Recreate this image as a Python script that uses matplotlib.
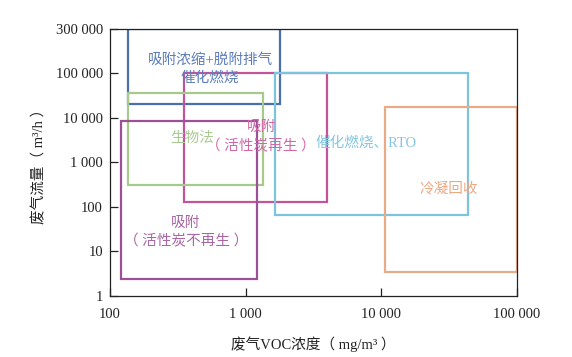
import matplotlib
matplotlib.use("Agg")
import matplotlib.pyplot as plt
from matplotlib.patches import Rectangle
from matplotlib.ticker import FixedLocator, NullLocator

plt.rcParams['font.family'] = ['Liberation Serif', 'Noto Sans CJK SC']
plt.rcParams['font.size'] = 10.5

# boxes: (label, x_low, x_high, y_low, y_high) in mg/m3 and m3/h
names = ['吸附浓缩+脱附排气\n催化燃烧', '吸附\n（ 活性炭再生 ）', '催化燃烧、RTO',
         '生物法', '吸附\n（ 活性炭不再生 ）', '冷凝回收']
x_low = [136, 350, 1650, 136, 120, 10600]
x_high = [1790, 3970, 43400, 1340, 1210, 100000]
y_low = [20600, 130, 66, 310, 2.4, 3.5]
y_high = [1e6, 100000, 100000, 36500, 8560, 17700]
line_colors = ['#4a6fad', '#c4549a', '#7cc3de', '#a6ca8c', '#9b5197', '#e8ab88']
text_colors = ['#5b7cba', '#d068a8', '#86c6e0', '#a9cb92', '#a866a3', '#eaa985']
# label anchor points (data coords)
text_x = [546, 1300, 7690, 402, 363, 31500]
text_y = [126000, 3730, 2750, 3550, 26.8, 254]

x_ticks = [100, 1000, 10000, 100000]
x_labels = ['100', '1 000', '10 000', '100 000']
y_ticks = [1, 10, 100, 1000, 10000, 100000, 1e6]
y_labels = ['1', '10', '100', '1 000', '10 000', '100 000', '300 000']

fig = plt.figure(figsize=(5.72, 3.57), dpi=100)
ax = fig.add_axes([0.1923, 0.1709, 0.7115, 0.7479])
ax.set_xscale('log')
ax.set_yscale('log')
ax.set_xlim(100, 100000)
ax.set_ylim(1, 1e6)

for i in range(len(names)):
    r = Rectangle((x_low[i], y_low[i]), x_high[i] - x_low[i], y_high[i] - y_low[i],
                  fill=False, edgecolor=line_colors[i], linewidth=1.6, zorder=2)
    ax.add_patch(r)
    ax.text(text_x[i], text_y[i], names[i], color=text_colors[i], ha='center',
            va='center', fontsize=10.5, linespacing=1.45, zorder=3)

ax.xaxis.set_major_locator(FixedLocator(x_ticks))
ax.yaxis.set_major_locator(FixedLocator(y_ticks))
ax.xaxis.set_minor_locator(NullLocator())
ax.yaxis.set_minor_locator(NullLocator())
ax.set_xticklabels(x_labels)
ax.set_yticklabels(y_labels)
ax.tick_params(direction='in', length=6, width=0.9, labelsize=10.5, colors='#222222')
ax.tick_params(axis='x', pad=9)
ax.tick_params(axis='y', pad=5)
for s in ax.spines.values():
    s.set_linewidth(0.9)
    s.set_color('#222222')

ax.set_xlabel('废气VOC浓度（ mg/m³ ）', fontsize=10.5, color='#222222', labelpad=11)
ax.set_ylabel('废气流量（ m³/h ）', fontsize=10.5, color='#222222', labelpad=7)

fig.savefig('out.png', dpi=100)
